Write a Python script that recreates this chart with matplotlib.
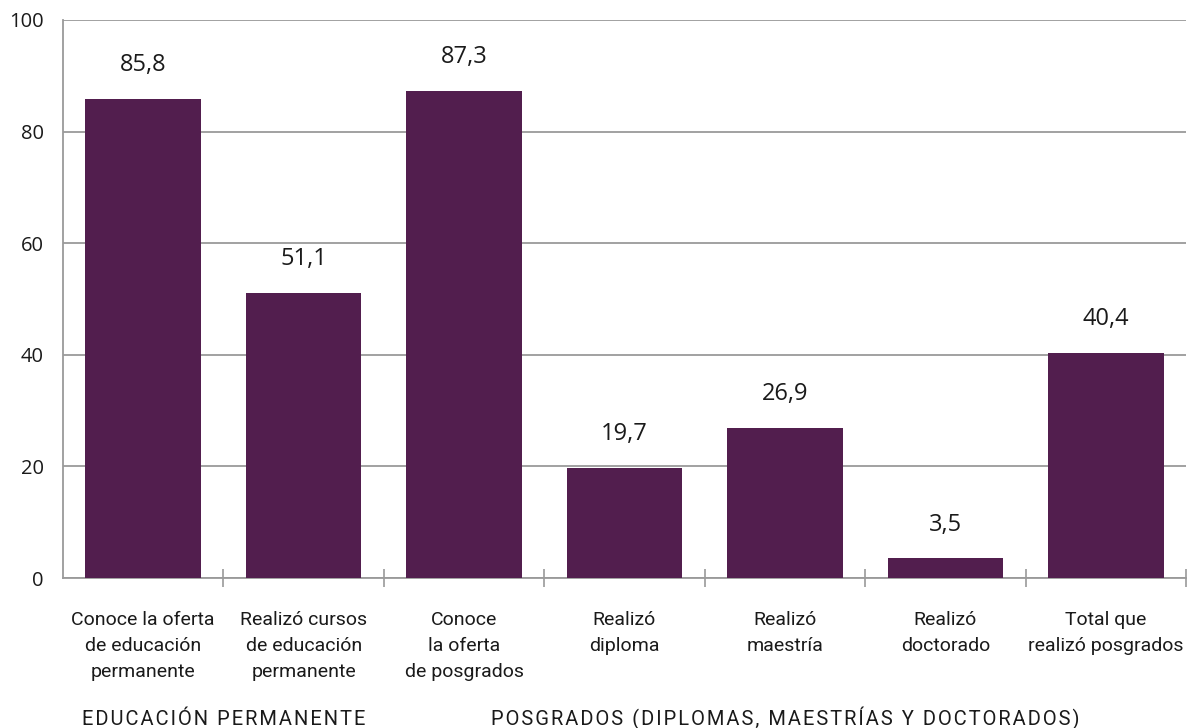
import matplotlib
matplotlib.use("Agg")
import matplotlib.pyplot as plt
import numpy as np

categories = [
    "Conoce la oferta\nde educación\npermanente",
    "Realizó cursos\nde educación\npermanente",
    "Conoce\nla oferta\nde posgrados",
    "Realizó\ndiploma",
    "Realizó\nmaestría",
    "Realizó\ndoctorado",
    "Total que\nrealizó posgrados",
]
values = [85.8, 51.1, 87.3, 19.7, 26.9, 3.5, 40.4]
value_labels = ["85,8", "51,1", "87,3", "19,7", "26,9", "3,5", "40,4"]
y_ticks = [0, 20, 40, 60, 80, 100]
groups = ["EDUCACIÓN PERMANENTE", "POSGRADOS (DIPLOMAS, MAESTRÍAS Y DOCTORADOS)"]
group_spans = [(0, 1), (2, 6)]

bar_color = "#521E4E"
grid_color = "#9a9a9a"
text_color = "#1a1a1a"

plt.rcParams["font.family"] = ["Open Sans", "DejaVu Sans"]

fig = plt.figure(figsize=(11.95, 7.28), dpi=100)
ax = fig.add_axes([63 / 1195, 1 - 578 / 728, (1186 - 63) / 1195, (578 - 20) / 728])

x = np.arange(len(values))
ax.bar(x, values, width=0.72, color=bar_color, zorder=3)

ax.set_xlim(-0.5, len(values) - 0.5)
ax.set_ylim(0, 100)
ax.set_yticks(y_ticks)
ax.set_yticklabels([str(t) for t in y_ticks], fontsize=14.5, color=text_color)
ax.tick_params(axis="y", length=0, pad=14)
ax.yaxis.grid(True, color=grid_color, linewidth=1.3, zorder=0)

# separators between categories (and at the right end of the axis)
ax.set_xticks([])
ax.set_xticks(np.arange(0.5, len(values), 1), minor=True)
ax.tick_params(axis="x", which="minor", length=13, width=1.2, color=grid_color,
               direction="inout")

for side in ["top", "right"]:
    ax.spines[side].set_visible(False)
for side in ["left", "bottom"]:
    ax.spines[side].set_color(grid_color)
    ax.spines[side].set_linewidth(1.3)

for xi, v, lab in zip(x, values, value_labels):
    ax.annotate(lab, (xi, v), xytext=(0, 20), textcoords="offset points",
                ha="center", va="baseline", fontsize=17, color=text_color)

trans = ax.get_xaxis_transform()
for xi, cat in zip(x, categories):
    ax.text(xi, -0.06, cat, transform=trans, ha="center", va="top",
            fontsize=14, color=text_color, linespacing=1.55,
            family=["Roboto", "DejaVu Sans"])

for name, (a, b) in zip(groups, group_spans):
    spaced = "\u200a".join(name)
    ax.text((a + b) / 2, -0.264, spaced, transform=trans, ha="center", va="baseline",
            fontsize=14.5, color=text_color, family=["Roboto", "DejaVu Sans"])

fig.savefig("out.png", dpi=100, facecolor="white")
